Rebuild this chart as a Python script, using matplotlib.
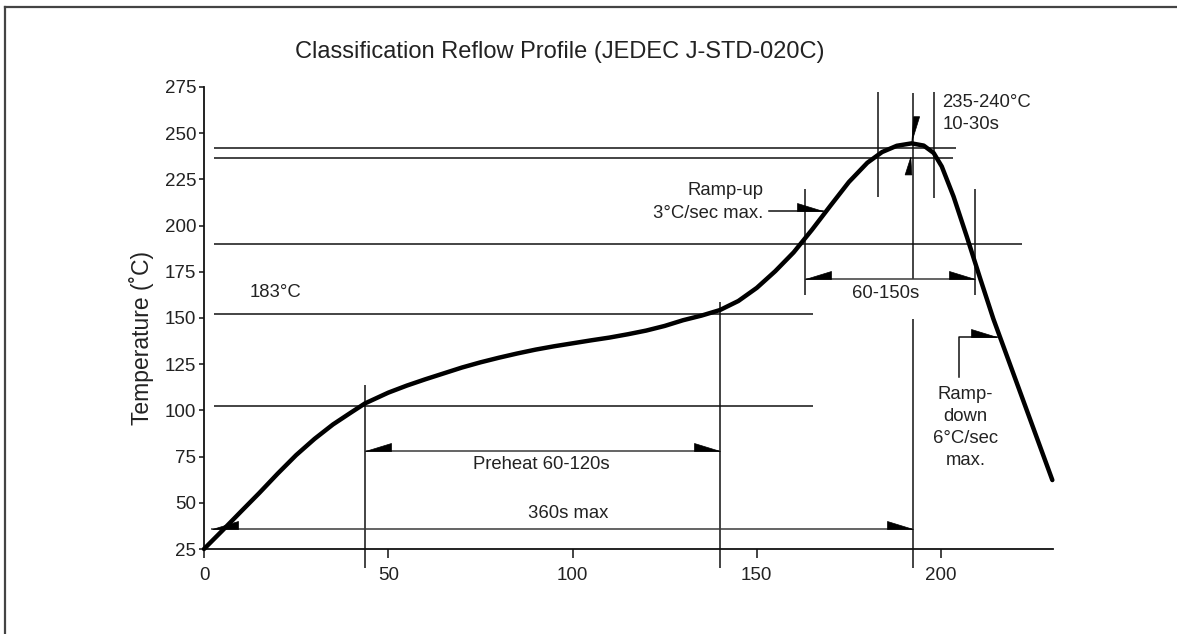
import matplotlib
matplotlib.use("Agg")
import matplotlib.pyplot as plt
import matplotlib.transforms as mtransforms
from matplotlib.patches import Polygon
from matplotlib.lines import Line2D

plt.rcParams['font.family'] = ['Liberation Sans', 'DejaVu Sans']

# ---- data ----
time_s = [0, 5, 10, 15, 20, 25, 30, 35, 40, 43.7, 50, 55, 60, 65, 70, 75, 80, 85,
          90, 95, 100, 105, 110, 115, 120, 125, 130, 135, 140, 145, 150, 155, 160,
          165, 170, 175, 180, 184, 188, 192, 195.3, 198, 200.2, 203.4, 207, 210.6,
          214.2, 230.2]
temp_c = [25, 35, 45.2, 55.3, 65.8, 75.8, 84.6, 92.4, 99, 103.8, 109.6, 113.4,
          116.8, 120, 123.2, 126, 128.5, 130.8, 132.9, 134.7, 136.3, 137.9, 139.4,
          141.2, 143.2, 145.7, 148.8, 151.3, 154.3, 159.2, 166.3, 175.3, 185.5,
          197.8, 210.8, 223.6, 234, 239.8, 243.2, 244.5, 243.3, 239.3, 232, 215.7,
          194, 171.5, 149.5, 62.3]

x_ticks = [0, 50, 100, 150, 200]
y_ticks = [25, 50, 75, 100, 125, 150, 175, 200, 225, 250, 275]

# horizontal reference lines: level, start, end
href_y = [242, 236.5, 190, 152.3, 102.3]
href_x0 = [2.7, 2.7, 2.7, 2.7, 2.7]
href_x1 = [204, 203.3, 222, 165.3, 165.3]

# vertical reference lines: position, top, bottom
vref_x = [43.7, 140.1, 163, 183, 192.3, 192.3, 198.2, 209.3]
vref_top = [114, 158.8, 219.8, 272.5, 271.6, 149.3, 272.5, 219.8]
vref_bot = [14.7, 14.7, 162.4, 215.3, 171, 14.7, 214.8, 162.4]

# dimension lines: level, start, end
dim_y = [78, 35.7, 171]
dim_x0 = [43.7, 1.8, 163]
dim_x1 = [140.1, 192.3, 209.3]

fig = plt.figure(figsize=(11.77, 6.34), dpi=100)
ax = fig.add_axes([204 / 1177, 1 - 549 / 634, (1052.7 - 204) / 1177, (549 - 87) / 634])
ax.set_xlim(0, 230.3)
ax.set_ylim(25, 275)

ink = '#111111'
txt = '#222222'

for s in ['top', 'right']:
    ax.spines[s].set_visible(False)
for s in ['left', 'bottom']:
    ax.spines[s].set_linewidth(1.3)
    ax.spines[s].set_color(ink)

ax.set_xticks(x_ticks)
ax.set_yticks(y_ticks)
ax.tick_params(axis='x', length=6.5, width=1.1, pad=6.5, labelsize=13.5, colors=ink, labelcolor=txt)
ax.tick_params(axis='y', length=3.6, width=1.1, pad=2, labelsize=13.5, colors=ink, labelcolor=txt)

# reference lines
for y, a, b in zip(href_y, href_x0, href_x1):
    ax.plot([a, b], [y, y], color=ink, lw=1.1, clip_on=False, solid_capstyle='butt')
for x, t, b in zip(vref_x, vref_top, vref_bot):
    ax.plot([x, x], [b, t], color=ink, lw=1.1, clip_on=False, solid_capstyle='butt')
for y, a, b in zip(dim_y, dim_x0, dim_x1):
    ax.plot([a, b], [y, y], color='#3a3a3a', lw=1.1, clip_on=False, solid_capstyle='butt')

# ramp-up leader
ax.plot([153.2, 168.1], [207.9, 207.9], color=ink, lw=1.1, clip_on=False)
# ramp-down leader (elbow)
ax.plot([204.9, 204.9, 215.1], [118.2, 139.9, 139.9], color=ink, lw=1.1, clip_on=False)

# profile curve
ax.plot(time_s, temp_c, color='black', lw=3.2, solid_joinstyle='round',
        solid_capstyle='round', clip_on=False, zorder=5)


def head(tip_x, tip_y, verts_px):
    """Filled arrowhead; verts are pixel offsets from the tip (y up)."""
    tr = fig.dpi_scale_trans + mtransforms.ScaledTranslation(tip_x, tip_y, ax.transData)
    pts = [(0, 0)] + [(vx / 100.0, vy / 100.0) for vx, vy in verts_px]
    ax.add_patch(Polygon(pts, closed=True, facecolor='black', edgecolor='black',
                         lw=0.5, transform=tr, clip_on=False, zorder=6))


L, H = 26, 8
right_heads = [(140.1, 78), (192.3, 35.7), (209.3, 171), (168.1, 207.9), (215.1, 139.9)]
left_heads = [(43.7, 78), (2.2, 35.7), (163, 171)]
for x, y in right_heads:
    head(x, y, [(-L, 0), (-L, H)])
for x, y in left_heads:
    head(x, y, [(L, 0), (L, H)])
# peak arrows
head(192.1, 245.4, [(1.7, 25), (7.7, 25)])
head(191.8, 237.0, [(-5.7, -17.7), (1.0, -17.7)])

fs = 13.3
ax.text(200.3, 266.5, '235-240°C', fontsize=fs, color=txt, ha='left', va='center')
ax.text(200.3, 254.5, '10-30s', fontsize=fs, color=txt, ha='left', va='center')
ax.text(151.8, 218.9, 'Ramp-up', fontsize=fs, color=txt, ha='right', va='center')
ax.text(151.8, 206.6, '3°C/sec max.', fontsize=fs, color=txt, ha='right', va='center')
ax.text(12.5, 163.7, '183°C', fontsize=fs, color=txt, ha='left', va='center')
ax.text(184.9, 163.4, '60-150s', fontsize=fs, color=txt, ha='center', va='center')
ax.text(91.6, 70.8, 'Preheat 60-120s', fontsize=fs, color=txt, ha='center', va='center')
ax.text(98.9, 44.3, '360s max', fontsize=fs, color=txt, ha='center', va='center')
ax.text(206.7, 90.75, 'Ramp-\ndown\n6°C/sec\nmax.', fontsize=fs, color=txt,
        ha='center', va='center', multialignment='center', linespacing=1.38)

fig.text(559.5 / 1177, 1 - 52 / 634, 'Classification Reflow Profile (JEDEC J-STD-020C)',
         fontsize=17, color=txt, ha='center', va='center')
fig.text(141.7 / 1177, 1 - 338 / 634, 'Temperature (˚C)', fontsize=16.5, color=txt,
         ha='center', va='center', rotation=90)

# partial frame (top and left edges)
fig.add_artist(Line2D([5 / 1177, 1.0], [1 - 6.7 / 634, 1 - 6.7 / 634],
                      transform=fig.transFigure, color='#444444', lw=1.6))
fig.add_artist(Line2D([5 / 1177, 5 / 1177], [0.0, 1 - 6.7 / 634],
                      transform=fig.transFigure, color='#444444', lw=1.6))

fig.savefig('out.png', dpi=100)
